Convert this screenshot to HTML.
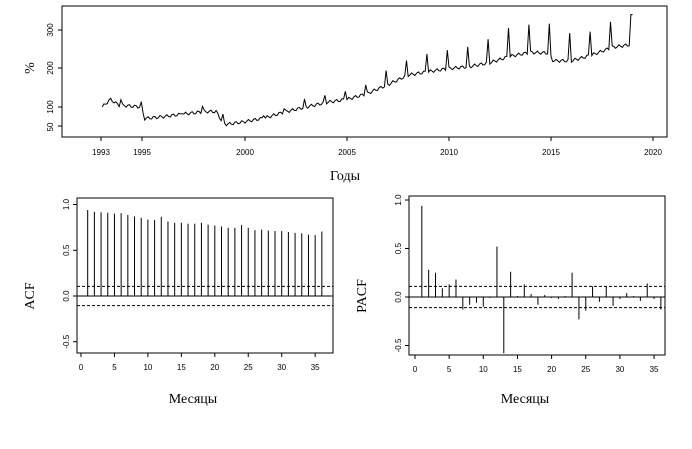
<!DOCTYPE html>
<html><head><meta charset="utf-8"><style>
html,body{margin:0;padding:0;background:#fff;width:692px;height:449px;overflow:hidden}
svg text{font-family:"Liberation Sans",sans-serif;font-size:8px}
.ser{font-family:"Liberation Serif","DejaVu Serif",serif;font-size:14px}
</style></head><body>
<svg id="s" width="692" height="449" xmlns="http://www.w3.org/2000/svg">
<rect x="62" y="6" width="605" height="131" fill="none" stroke="#000"/>
<g stroke="#000"><line x1="101" y1="137" x2="653" y2="137"/>
<line x1="101" y1="137" x2="101" y2="141"/><line x1="142" y1="137" x2="142" y2="141"/><line x1="245" y1="137" x2="245" y2="141"/><line x1="347" y1="137" x2="347" y2="141"/><line x1="449" y1="137" x2="449" y2="141"/><line x1="551" y1="137" x2="551" y2="141"/><line x1="653" y1="137" x2="653" y2="141"/>
<line x1="62" y1="30" x2="58" y2="30"/><line x1="62" y1="68" x2="58" y2="68"/><line x1="62" y1="107" x2="58" y2="107"/><line x1="62" y1="126" x2="58" y2="126"/></g>
<g text-anchor="middle"><text x="101" y="155">1993</text><text x="142" y="155">1995</text><text x="245" y="155">2000</text><text x="347" y="155">2005</text><text x="449" y="155">2010</text><text x="551" y="155">2015</text><text x="653" y="155">2020</text>
<text transform="translate(53,30) rotate(-90)">300</text><text transform="translate(53,68) rotate(-90)">200</text><text transform="translate(53,107) rotate(-90)">100</text><text transform="translate(53,127) rotate(-90)">50</text></g>
<text class="ser" transform="translate(34,68) rotate(-90)" text-anchor="middle">%</text>
<text class="ser" x="345" y="180" text-anchor="middle">Годы</text>
<path id="ts" fill="none" stroke="#000" stroke-width="1"/>

<rect x="77" y="198" width="256" height="155" fill="none" stroke="#000"/>
<rect x="409" y="196" width="256" height="159" fill="none" stroke="#000"/>
<g id="acf"></g><g id="pacf"></g>
<text class="ser" transform="translate(34,296) rotate(-90)" text-anchor="middle">ACF</text>
<text class="ser" transform="translate(366,296) rotate(-90)" text-anchor="middle">PACF</text>
<text class="ser" x="193" y="403" text-anchor="middle">Месяцы</text>
<text class="ser" x="525" y="403" text-anchor="middle">Месяцы</text>
</svg>
<script>
var s=document.getElementById('s'),NS='http://www.w3.org/2000/svg';
function el(t,a,p){var e=document.createElementNS(NS,t);for(var k in a)e.setAttribute(k,a[k]);(p||s).appendChild(e);return e;}
// time series
var kn=[[1993,100],[1993.4,120],[1993.8,105],[1994.5,102],[1994.95,100],[1995.05,70],[1996,75],[1997,82],[1998,88],[1998.6,88],[1998.9,60],[1999.1,55],[2000,62],[2001,72],[2002,88],[2003,100],[2004,112],[2005,120],[2006,135],[2007,158],[2008,183],[2009,192],[2010,200],[2011,205],[2012,215],[2013,232],[2014,242],[2014.9,240],[2015.1,220],[2016,220],[2017,235],[2018,255],[2018.9,262]];
function base(t){for(var i=1;i<kn.length;i++)if(t<=kn[i][0]){var a=kn[i-1],b=kn[i];return a[1]+(b[1]-a[1])*(t-a[0])/(b[0]-a[0]);}return 262;}
var sp={1993:15,1994:10,1996:5,1997:15,1998:18,2000:10,2001:10,2002:18,2003:18,2004:25,2005:25,2006:35,2007:38,2008:50,2009:50,2010:48,2011:60,2012:78,2013:75,2014:75,2015:70,2016:65,2017:70,2018:75};
var d='';for(var m=0;m<=312;m++){var t=1993+m/12,v=base(t)+Math.sin(m*1.7)*4;var yr=Math.floor(t),mo=m%12;
if(mo==11&&sp[yr])v+=sp[yr];if(m==312)v=340;
var x=245+(t-2000)*20.4,y=107-(v-100)*0.385;d+=(m?'L':'M')+x.toFixed(1)+' '+y.toFixed(1);}
document.getElementById('ts').setAttribute('d',d);
// acf
function panel(g,x0,dx,y0,ys,vals,start,xl,yb,ticksY,xr,conf,zeroTop){
 el('line',{x1:xl,y1:y0,x2:xr,y2:y0,stroke:'#000'},g);
 var c1=y0-conf*ys,c2=y0+conf*ys;
 el('line',{x1:xl,y1:c1,x2:xr,y2:c1,stroke:'#000','stroke-dasharray':'3,2'},g);
 el('line',{x1:xl,y1:c2,x2:xr,y2:c2,stroke:'#000','stroke-dasharray':'3,2'},g);
 vals.forEach(function(v,i){var x=x0+(i+start)*dx;el('line',{x1:x,y1:y0,x2:x,y2:y0-v*ys,stroke:'#000'},g);});
 [0,5,10,15,20,25,30,35].forEach(function(l){var x=x0+l*dx;el('line',{x1:x,y1:yb,x2:x,y2:yb+4,stroke:'#000'},g);var t=el('text',{x:x,y:yb+17,'text-anchor':'middle'},g);t.textContent=l;});
 el('line',{x1:x0,y1:yb,x2:x0+35*dx,y2:yb,stroke:'#000'},g);
 ticksY.forEach(function(v){var y=y0-v*ys;el('line',{x1:xl,y1:y,x2:xl-4,y2:y,stroke:'#000'},g);var t=el('text',{transform:'translate('+(xl-8)+','+y+') rotate(-90)','text-anchor':'middle'},g);t.textContent=v.toFixed(1);});
}
var acf=[0.94,0.92,0.915,0.91,0.9,0.905,0.885,0.87,0.855,0.835,0.83,0.865,0.815,0.8,0.8,0.79,0.79,0.8,0.78,0.77,0.76,0.745,0.745,0.775,0.745,0.72,0.725,0.715,0.71,0.71,0.7,0.69,0.685,0.67,0.665,0.705];
panel(document.getElementById('acf'),81,6.69,296,91.5,acf,1,77,353,[-0.5,0,0.5,1],333,0.105);
var pacf=[0.94,0.28,0.25,0.09,0.13,0.18,-0.13,-0.08,-0.06,-0.1,-0.01,0.52,-0.58,0.26,0.01,0.13,0.03,-0.08,0.02,-0.01,-0.02,0.01,0.25,-0.23,-0.14,0.11,-0.05,0.11,-0.09,-0.02,0.04,0.01,-0.04,0.14,-0.02,-0.13];
panel(document.getElementById('pacf'),415,6.83,297,97,pacf,1,409,355,[-0.5,0,0.5,1],665,0.11);
</script>
</body></html>
